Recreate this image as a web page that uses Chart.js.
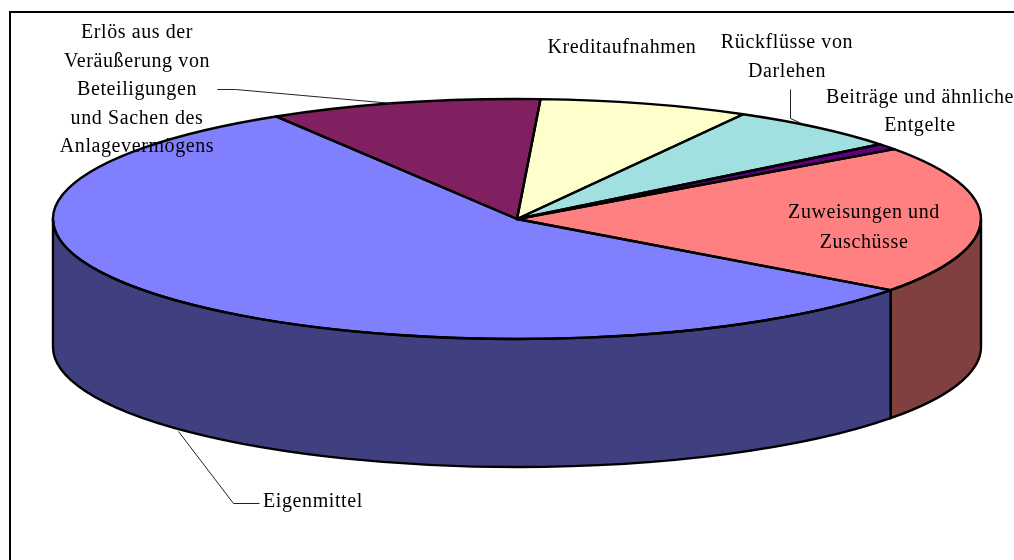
<!DOCTYPE html>
<html>
<head>
<meta charset="utf-8">
<script src="https://cdn.jsdelivr.net/npm/chart.js@4/dist/chart.umd.min.js"></script>
<style>
  html, body { margin: 0; padding: 0; background: #fff; }
  #wrap { width: 1014px; height: 560px; }
</style>
</head>
<body>
<div id="wrap"><canvas id="pie" width="1014" height="560"></canvas></div>
<script>
// Daten (Anteile in %)
const categories = [
  'Kreditaufnahmen',
  'Rückflüsse von Darlehen',
  'Beiträge und ähnliche Entgelte',
  'Zuweisungen und Zuschüsse',
  'Eigenmittel',
  'Erlös aus der Veräußerung von Beteiligungen und Sachen des Anlagevermögens',
];
const values = [7.3, 6.2, 0.8, 20.0, 56.2, 9.5];
const topColors = ['#ffffcc', '#a0e0e0', '#600080', '#ff8080', '#8080ff', '#802060'];
const sideColors = ['#80806a', '#507070', '#300040', '#804040', '#404080', '#401030'];

// Beschriftungen (zeilenweise, wie im Original umbrochen)
const labelLines = [
  ['Kreditaufnahmen'],
  ['Rückflüsse von', 'Darlehen'],
  ['Beiträge und ähnliche', 'Entgelte'],
  ['Zuweisungen und', 'Zuschüsse'],
  ['Eigenmittel'],
  ['Erlös aus der', 'Veräußerung von', 'Beteiligungen', 'und Sachen des', 'Anlagevermögens'],
];

// Geometrie der 3D-Darstellung
const CX = 517, CY = 219, RX = 464, RY = 120, DEPTH = 128;
const FONT = '20px "Liberation Serif", "Times New Roman", serif';

const labelLayout = [
  { x: 622, y: 48, align: 'center', lh: 29 },
  { x: 787, y: 43, align: 'center', lh: 29 },
  { x: 920, y: 98, align: 'center', lh: 28 },
  { x: 864, y: 213, align: 'center', lh: 30 },
  { x: 263, y: 502, align: 'left', lh: 29 },
  { x: 137, y: 33, align: 'center', lh: 28.5 },
];
const leaders = [
  null,
  [[790, 89], [790, 118], [801, 123]],
  null,
  null,
  [[178, 431], [233, 503], [259, 503]],
  [[217, 89], [235, 89], [392, 103]],
];

function frontParts(s, e) {
  const TAU = Math.PI * 2;
  const a = ((s % TAU) + TAU) % TAU;
  const b = a + (e - s);
  const parts = [];
  for (const [lo, hi] of [[0, Math.PI], [TAU, TAU + Math.PI]]) {
    const x = Math.max(a, lo), y = Math.min(b, hi);
    if (y > x) parts.push([x, y]);
  }
  return parts;
}

const frame = {
  id: 'frame',
  beforeDraw(chart) {
    const ctx = chart.ctx;
    ctx.save();
    ctx.fillStyle = '#fff';
    ctx.fillRect(0, 0, chart.width, chart.height);
    ctx.strokeStyle = '#000';
    ctx.lineWidth = 2;
    ctx.strokeRect(10, 12, 1100, 600);
    ctx.restore();
  },
};

// Kreis der Bibliothek zur Ellipse stauchen
const squash = {
  id: 'squash',
  beforeDatasetsDraw(chart) {
    const arc = chart.getDatasetMeta(0).data[0];
    const r = arc.outerRadius;
    const ctx = chart.ctx;
    ctx.save();
    ctx.translate(CX, CY);
    ctx.scale(RX / r, RY / r);
    ctx.translate(-arc.x, -arc.y);
  },
  afterDatasetsDraw(chart) {
    const ctx = chart.ctx;
    ctx.restore();
    const arcs = chart.getDatasetMeta(0).data;

    ctx.save();
    ctx.lineJoin = 'round';
    ctx.strokeStyle = '#000';
    ctx.lineWidth = 2.4;

    // Seitenwände
    arcs.forEach((a, i) => {
      frontParts(a.startAngle, a.endAngle).forEach(([s, e]) => {
        ctx.beginPath();
        ctx.ellipse(CX, CY, RX, RY, 0, s, e);
        ctx.lineTo(CX + RX * Math.cos(e), CY + DEPTH + RY * Math.sin(e));
        ctx.ellipse(CX, CY + DEPTH, RX, RY, 0, e, s, true);
        ctx.closePath();
        ctx.fillStyle = sideColors[i];
        ctx.fill();
        ctx.stroke();
      });
    });

    // Umrisse der Oberseite
    arcs.forEach((a) => {
      ctx.beginPath();
      ctx.moveTo(CX, CY);
      ctx.ellipse(CX, CY, RX, RY, 0, a.startAngle, a.endAngle);
      ctx.closePath();
      ctx.stroke();
    });

    // Führungslinien
    ctx.lineWidth = 1;
    ctx.strokeStyle = '#222';
    leaders.forEach((pts) => {
      if (!pts) return;
      ctx.beginPath();
      ctx.moveTo(pts[0][0] + 0.5, pts[0][1] + 0.5);
      for (let k = 1; k < pts.length; k++) ctx.lineTo(pts[k][0] + 0.5, pts[k][1] + 0.5);
      ctx.stroke();
    });

    // Texte
    ctx.fillStyle = '#000';
    ctx.font = FONT;
    ctx.letterSpacing = '0.6px';
    ctx.textBaseline = 'middle';
    labelLines.forEach((lines, i) => {
      const l = labelLayout[i];
      ctx.textAlign = l.align;
      lines.forEach((t, k) => ctx.fillText(t, l.x, l.y + k * l.lh));
    });
    ctx.restore();
  },
};

new Chart(document.getElementById('pie'), {
  type: 'pie',
  data: {
    labels: categories,
    datasets: [{
      data: values,
      backgroundColor: topColors,
      borderWidth: 0,
      clip: false,
    }],
  },
  options: {
    responsive: false,
    animation: false,
    rotation: 2.9,
    layout: { padding: 0 },
    plugins: {
      legend: { display: false },
      tooltip: { enabled: false },
    },
    events: [],
  },
  plugins: [frame, squash],
});
</script>
</body>
</html>
